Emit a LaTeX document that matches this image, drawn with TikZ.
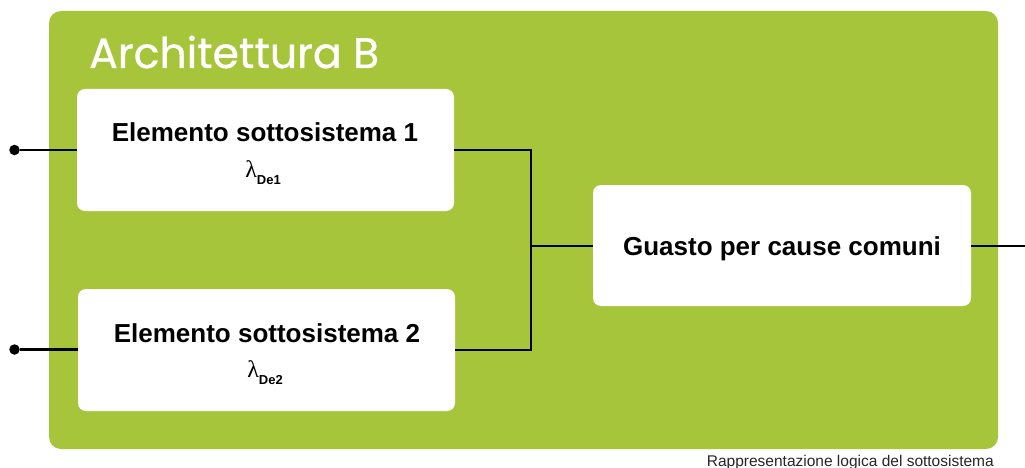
\documentclass[tikz,border=0pt]{standalone}
\usepackage{fontspec}
\setmainfont{Liberation Sans}
\newfontfamily\titlefont{Poppins}[UprightFeatures={FakeBold=0.8}]
\newfontfamily\greekfont{Liberation Serif}
\definecolor{archgreen}{HTML}{A7C53A}
\begin{document}
\begin{tikzpicture}[x=1pt,y=-1pt,
  whitebox/.style={fill=white, rounded corners=8pt, minimum width=377pt, minimum height=122pt, inner sep=0pt, align=center},
  wire/.style={line width=2.5pt, black},
  dot/.style={circle, fill=black, inner sep=0pt, minimum size=10.5pt}]
\useasboundingbox (0,0) rectangle (1025,468);
\fill[archgreen, rounded corners=12pt] (49,11) rectangle (998,449);
\node[anchor=base west, text=white, font=\titlefont\fontsize{42.5}{50}\selectfont, inner sep=0pt] (title) at (89,68) {Architettura B};
\node[whitebox] (b1) at (265.5,150) {};
\node[whitebox] (b2) at (266.5,350) {};
\node[whitebox, minimum width=378pt, minimum height=121pt] (b3) at (782,245.5) {};
\node[font=\bfseries\fontsize{26}{30}\selectfont, anchor=base, inner sep=0pt] (t1) at (265,142) {Elemento sottosistema 1};
\node[anchor=base, inner sep=0pt] (l1) at (263,177) {{\greekfont\fontsize{24}{28}\selectfont λ}{\raisebox{-7pt}{\bfseries\fontsize{13}{16}\selectfont De1}}};
\node[font=\bfseries\fontsize{26}{30}\selectfont, anchor=base, inner sep=0pt] (t2) at (267,342) {Elemento sottosistema 2};
\node[anchor=base, inner sep=0pt] (l2) at (265,377) {{\greekfont\fontsize{24}{28}\selectfont λ}{\raisebox{-7pt}{\bfseries\fontsize{13}{16}\selectfont De2}}};
\node[font=\bfseries\fontsize{26}{30}\selectfont, anchor=base, inner sep=0pt] (t3) at (782,255) {Guasto per cause comuni};
\node[anchor=base east, font=\fontsize{15.5}{18}\selectfont, text=black!85, inner sep=0pt] (cap) at (994,466) {Rappresentazione logica del sottosistema};
\node[dot] (d1) at (14.5,150) {};
\node[dot] (d2) at (14.5,349.5) {};
\coordinate (j) at (531,246);
\coordinate (out) at (1025,246);
\draw[wire] (d1) -- (b1.west |- d1);
\draw[wire] (d2) -- (b2.west |- d2);
\draw[wire] (b1.east) -| (j);
\draw[wire] (b2.east) -| (j);
\draw[wire] (j) -- (b3.west |- j);
\draw[wire] (b3.east |- j) -- (out);
\end{tikzpicture}
\end{document}
